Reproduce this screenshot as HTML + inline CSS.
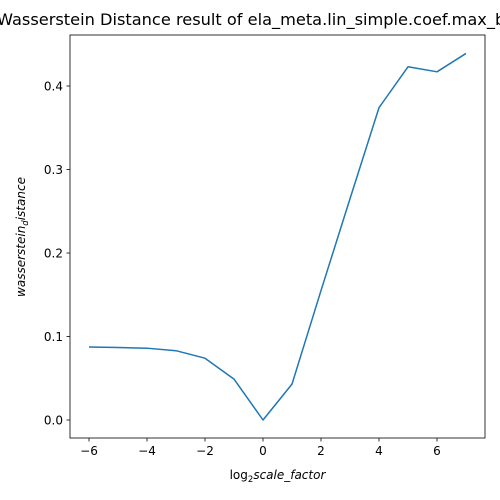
<!DOCTYPE html>
<html><head><meta charset="utf-8"><style>
html,body{margin:0;padding:0;background:#fff;overflow:hidden;width:500px;height:500px;}
svg{display:block;}
svg text{font-family:"DejaVu Sans","Liberation Sans",sans-serif;}
</style></head><body>
<svg width="500" height="500" viewBox="0 0 500 500">
<rect width="500" height="500" fill="#fff"/>
<g id="chart"></g>
</svg>
<script>
const xValues=[-6,-5,-4,-3,-2,-1,0,1,2,3,4,5,6,7];
const yValues=[0.0874,0.0868,0.086,0.083,0.074,0.049,0.0,0.043,0.155,0.265,0.374,0.423,0.417,0.439];
const xTicks=[-6,-4,-2,0,2,4,6];
const yTicks=[0.0,0.1,0.2,0.3,0.4];
const L=70,R=485,T=35,B=438;
function sx(v){return 263+v*29;}
function sy(v){return 420-v*835;}
const ns='http://www.w3.org/2000/svg';
const g=document.getElementById('chart');
function mk(tag,attrs,parent){const e=document.createElementNS(ns,tag);for(const k in attrs)e.setAttribute(k,attrs[k]);(parent||g).appendChild(e);return e;}
const t=mk('text',{x:-3,y:25,'text-anchor':'start','font-size':'16.2',fill:'#000'});
t.textContent='Wasserstein Distance result of ela_meta.lin_simple.coef.max_by_min';


let d='';xValues.forEach((x,i)=>{d+=(i?'L':'M')+sx(x)+','+sy(yValues[i]);});
const p=mk('path',{d:d,fill:'none',stroke:'#1f77b4','stroke-width':'1.5','stroke-linejoin':'round'});


const fr=mk('rect',{x:L,y:T,width:R-L,height:B-T,fill:'none',stroke:'#000','stroke-width':'0.8'});


xTicks.forEach(v=>{
 mk('line',{x1:sx(v),x2:sx(v),y1:B,y2:B+3.5,stroke:'#000','stroke-width':'0.8'});
 const tx=mk('text',{x:sx(v),y:B+17,'text-anchor':'middle','font-size':'12',fill:'#000'});
 tx.textContent=(v<0?'\u2212'+(-v):v);
 
 
});
yTicks.forEach(v=>{
 mk('line',{x1:L-3.5,x2:L,y1:sy(v),y2:sy(v),stroke:'#000','stroke-width':'0.8'});
 const tx=mk('text',{x:L-7,y:sy(v)+4.5,'text-anchor':'end','font-size':'12',fill:'#000'});
 tx.textContent=v.toFixed(1);
 
 
});
const xl=mk('text',{x:277.5,y:479,'text-anchor':'middle','font-size':'12',fill:'#000'});
xl.innerHTML='log<tspan font-size="8.5" dy="3">2</tspan><tspan dy="-3" font-style="italic">scale_factor</tspan>';


const yl=mk('text',{x:0,y:0,'text-anchor':'middle','font-size':'12',fill:'#000','font-style':'italic',transform:'translate(25,237) rotate(-90)'});
yl.innerHTML='wasserstein<tspan font-size="8.5" dy="3">d</tspan><tspan dy="-3">istance</tspan>';


</script>
</body></html>
